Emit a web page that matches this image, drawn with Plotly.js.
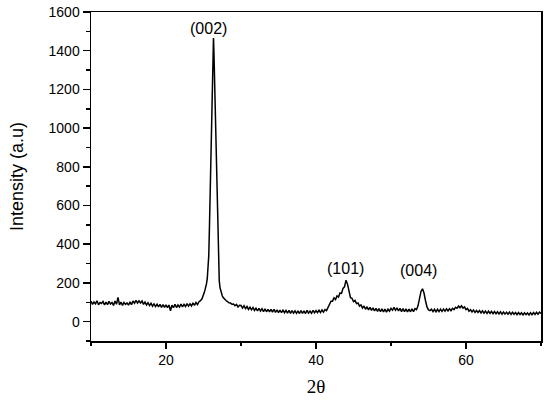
<!DOCTYPE html>
<html>
<head>
<meta charset="utf-8">
<script src="https://cdn.plot.ly/plotly-3.0.1.min.js"></script>
<style>
html,body{margin:0;padding:0;background:#fff;}
#chart{width:550px;height:401px;}
</style>
</head>
<body>
<div id="chart"></div>
<script>
// 2θ (degrees)
const twoTheta = [
10.0,10.2,10.4,10.6,10.8,11.0,11.2,11.4,11.6,11.8,
12.0,12.2,12.4,12.6,12.8,13.0,13.2,13.4,13.6,13.8,
14.0,14.2,14.4,14.6,14.8,15.0,15.2,15.4,15.6,15.8,
16.0,16.2,16.4,16.6,16.8,17.0,17.2,17.4,17.6,17.8,
18.0,18.2,18.4,18.6,18.8,19.0,19.2,19.4,19.6,19.8,
20.0,20.2,20.4,20.6,20.8,21.0,21.2,21.4,21.6,21.8,
22.0,22.2,22.4,22.6,22.8,23.0,23.2,23.4,23.6,23.8,
24.0,24.2,24.4,24.6,
24.8,24.9,25.0,25.1,25.2,25.3,25.4,25.5,25.6,25.7,
25.8,25.9,26.0,26.1,26.2,26.3,26.33,26.4,26.5,26.6,
26.7,26.8,26.9,27.0,27.1,27.2,27.3,27.4,27.5,27.6,
27.7,27.8,27.9,28.0,
28.2,28.4,28.6,28.8,29.0,29.2,29.4,29.6,29.8,
30.0,30.2,30.4,30.6,30.8,31.0,31.2,31.4,31.6,31.8,
32.0,32.2,32.4,32.6,32.8,33.0,33.2,33.4,33.6,33.8,
34.0,34.2,34.4,34.6,34.8,35.0,35.2,35.4,35.6,35.8,
36.0,36.2,36.4,36.6,36.8,37.0,37.2,37.4,37.6,37.8,
38.0,38.2,38.4,38.6,38.8,39.0,39.2,39.4,39.6,39.8,
40.0,40.2,40.4,40.6,40.8,41.0,41.2,41.4,41.6,41.8,
42.0,42.2,42.4,42.6,42.8,43.0,43.2,43.4,43.6,43.8,
44.0,44.2,44.4,44.6,44.8,45.0,45.2,45.4,45.6,45.8,
46.0,46.2,46.4,46.6,46.8,47.0,47.2,47.4,47.6,47.8,
48.0,48.2,48.4,48.6,48.8,49.0,49.2,49.4,49.6,49.8,
50.0,50.2,50.4,50.6,50.8,51.0,51.2,51.4,51.6,51.8,
52.0,52.2,52.4,52.6,52.8,53.0,53.2,53.4,53.6,53.8,
54.0,54.2,54.4,54.6,54.8,55.0,55.2,55.4,55.6,55.8,
56.0,56.2,56.4,56.6,56.8,57.0,57.2,57.4,57.6,57.8,
58.0,58.2,58.4,58.6,58.8,59.0,59.2,59.4,59.6,59.8,
60.0,60.2,60.4,60.6,60.8,61.0,61.2,61.4,61.6,61.8,
62.0,62.2,62.4,62.6,62.8,63.0,63.2,63.4,63.6,63.8,
64.0,64.2,64.4,64.6,64.8,65.0,65.2,65.4,65.6,65.8,
66.0,66.2,66.4,66.6,66.8,67.0,67.2,67.4,67.6,67.8,
68.0,68.2,68.4,68.6,68.8,69.0,69.2,69.4,69.6,69.8,
70.0
];
// Intensity (a.u)
const intensity = [
106,89,101,92,108,87,99,94,104,86,
101,88,105,91,99,84,107,90,125,87,
101,84,99,89,97,85,102,88,107,95,
110,96,108,97,107,89,101,86,98,83,
95,80,92,78,90,76,89,73,88,74,
87,72,86,56,85,72,90,73,86,75,
91,76,89,78,93,80,92,81,97,84,
99,88,103,108,
118,126,138,150,164,178,196,222,262,340,
500,690,880,1070,1250,1430,1466,1380,1200,1010,
820,620,430,280,212,176,156,143,134,126,
121,116,112,109,
103,97,96,90,91,82,89,76,85,
84,70,82,67,78,63,75,61,73,58,
70,56,69,55,67,52,66,51,64,50,
63,49,64,48,61,47,60,46,59,46,
58,44,59,43,57,44,56,43,56,42,
57,43,56,42,58,44,55,43,58,45,
57,46,59,47,61,49,62,57,71,86,
106,106,123,114,133,127,148,146,172,180,
214,194,164,124,121,104,110,93,96,80,
86,70,81,64,77,61,74,58,71,55,
69,53,67,51,66,50,65,49,64,54,
69,59,74,59,71,55,69,52,67,51,
66,50,65,51,66,52,67,62,82,118,
156,170,148,108,76,61,57,64,52,64,
51,64,52,65,53,65,54,66,55,67,
57,69,62,74,69,81,72,82,70,76,
62,68,54,62,50,60,48,58,47,57,
45,56,44,55,43,54,42,53,41,52,
41,51,40,51,39,50,39,49,38,49,
37,48,38,47,36,47,37,46,35,46,
36,45,35,46,36,47,37,48,38,49,
42
];
// peak labels (Miller indices)
const peakLabels = ["(002)", "(101)", "(004)"];
const peakLabelX = [25.64, 43.96, 53.64];
const peakLabelY = [1514, 273, 262];

const sans = "Liberation Sans, Arial, Helvetica, sans-serif";

const trace = {
  x: twoTheta,
  y: intensity,
  type: "scatter",
  mode: "lines",
  line: {color: "#000", width: 1.5},
  hoverinfo: "skip"
};

const annotations = peakLabels.map((t, i) => ({
  x: peakLabelX[i], y: peakLabelY[i], xref: "x", yref: "y",
  text: t, showarrow: false, xanchor: "center", yanchor: "middle",
  font: {family: sans, size: 16, color: "#000"}
}));

const layout = {
  width: 550, height: 401,
  margin: {l: 91, r: 9, t: 12, b: 60},
  paper_bgcolor: "#fff", plot_bgcolor: "#fff",
  showlegend: false,
  xaxis: {
    range: [10, 70], tick0: 0, dtick: 20,
    showgrid: false, zeroline: false,
    showline: true, mirror: true, linecolor: "#000", linewidth: 1.5,
    ticks: "outside", ticklen: 6, tickwidth: 1.5, tickcolor: "#000",
    minor: {ticks: "outside", dtick: 10, tick0: 0, ticklen: 3, tickwidth: 1.5, tickcolor: "#000", showgrid: false},
    tickfont: {family: sans, size: 14, color: "#000"},
    title: {text: "2θ", font: {family: "Liberation Serif, Times New Roman, serif", size: 19, color: "#000"}, standoff: 12}
  },
  yaxis: {
    range: [-100, 1600], tick0: 0, dtick: 200,
    showgrid: false, zeroline: false,
    showline: true, mirror: true, linecolor: "#000", linewidth: 1.5,
    ticks: "outside", ticklen: 7, tickwidth: 1.5, tickcolor: "#000",
    minor: {ticks: "outside", dtick: 100, tick0: 0, ticklen: 4, tickwidth: 1.5, tickcolor: "#000", showgrid: false},
    tickfont: {family: sans, size: 14, color: "#000"},
    title: {text: "Intensity (a.u)", font: {family: sans, size: 18, color: "#000"}, standoff: 20}
  },
  annotations: annotations
};

Plotly.newPlot("chart", [trace], layout, {staticPlot: true, displayModeBar: false});
</script>
</body>
</html>
